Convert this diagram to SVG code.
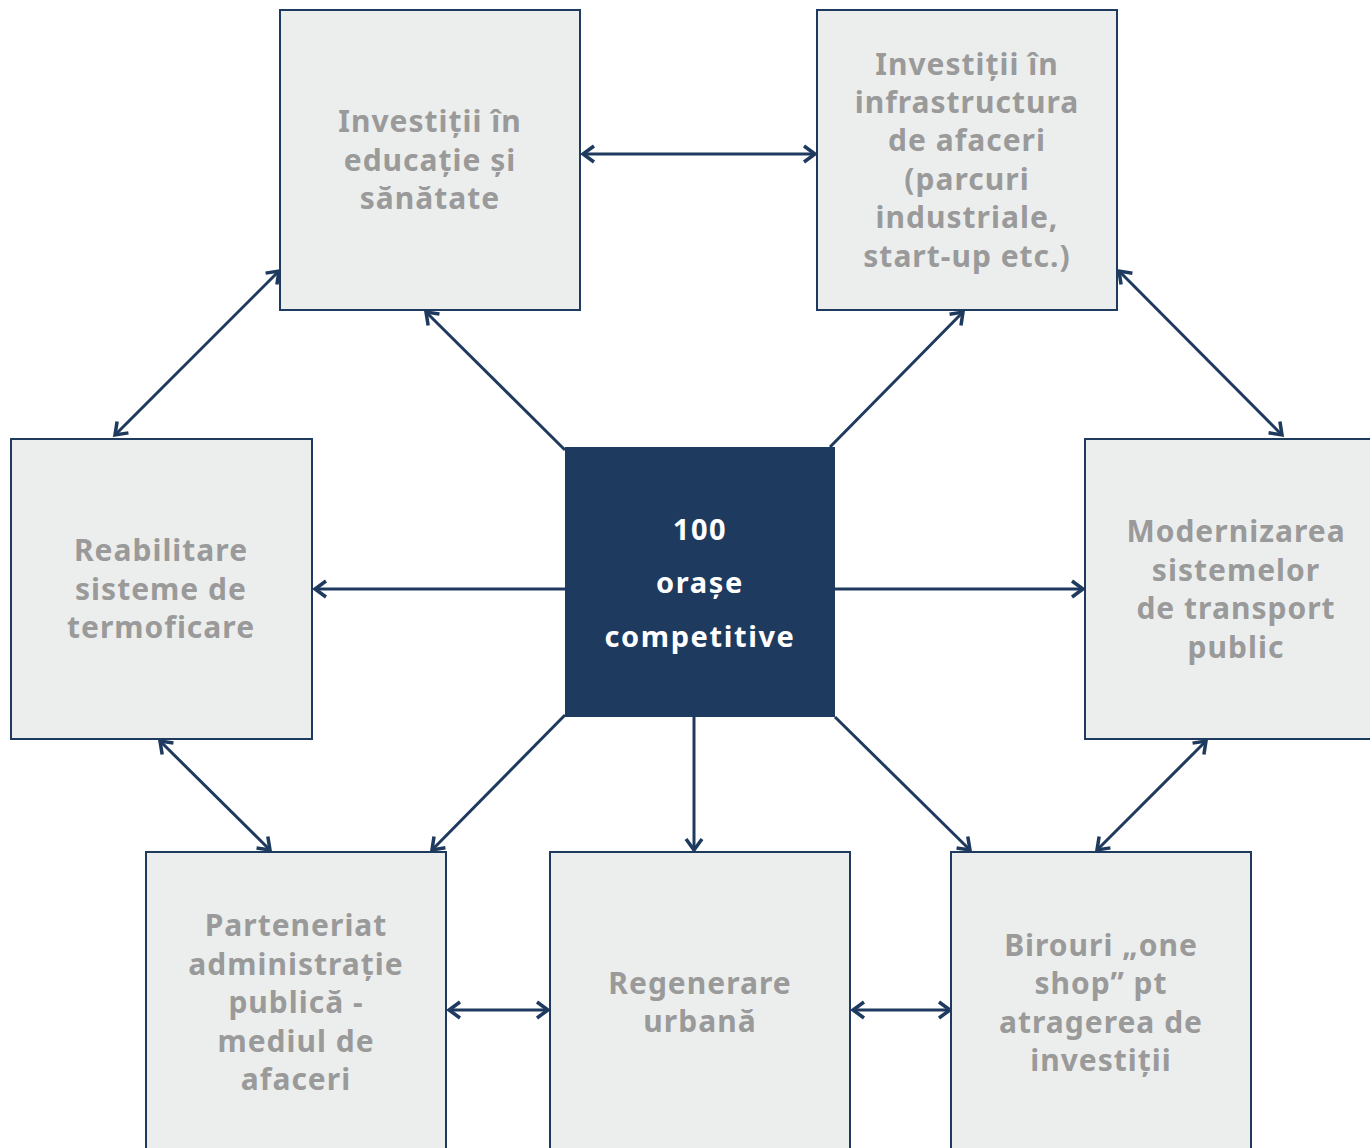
<svg xmlns="http://www.w3.org/2000/svg" width="1370" height="1148" viewBox="0 0 1370 1148">
<defs>
<style>
.box{fill:#ECEEED;stroke:#1F3A5F;stroke-width:2}
.t{font-family:"Noto Sans","Liberation Sans",sans-serif;font-weight:700;font-size:30px;letter-spacing:1px;fill:#9A9A9A;text-anchor:middle}
.c{font-family:"Noto Sans","Liberation Sans",sans-serif;font-weight:700;font-size:29px;letter-spacing:1.6px;fill:#FFFFFF;text-anchor:middle}
.ln{stroke:#1F3A5F;stroke-width:3;fill:none}
</style>
<marker id="ah" viewBox="0 0 20 20" refX="17" refY="10" markerWidth="20" markerHeight="20" markerUnits="userSpaceOnUse" orient="auto-start-reverse">
<path d="M6,2 L17,10 L6,18" fill="none" stroke="#1F3A5F" stroke-width="3.5"/>
</marker>
</defs>
<rect width="1370" height="1148" fill="#FFFFFF"/>
<g id="connectors">
<line class="ln" x1="583" y1="154" x2="815" y2="154" marker-start="url(#ah)" marker-end="url(#ah)"/>
<line class="ln" x1="279" y1="271" x2="115" y2="435" marker-start="url(#ah)" marker-end="url(#ah)"/>
<line class="ln" x1="565" y1="450" x2="426" y2="312" marker-end="url(#ah)"/>
<line class="ln" x1="830" y1="447" x2="963" y2="312" marker-end="url(#ah)"/>
<line class="ln" x1="1119" y1="271" x2="1282" y2="435" marker-start="url(#ah)" marker-end="url(#ah)"/>
<line class="ln" x1="565" y1="589" x2="315" y2="589" marker-end="url(#ah)"/>
<line class="ln" x1="835" y1="589" x2="1083" y2="589" marker-end="url(#ah)"/>
<line class="ln" x1="160" y1="741" x2="270" y2="850" marker-start="url(#ah)" marker-end="url(#ah)"/>
<line class="ln" x1="565" y1="715" x2="432" y2="850" marker-end="url(#ah)"/>
<line class="ln" x1="694" y1="717" x2="694" y2="850" marker-end="url(#ah)"/>
<line class="ln" x1="835" y1="717" x2="970" y2="850" marker-end="url(#ah)"/>
<line class="ln" x1="1206" y1="741" x2="1097" y2="850" marker-start="url(#ah)" marker-end="url(#ah)"/>
<line class="ln" x1="449" y1="1010" x2="548" y2="1010" marker-start="url(#ah)" marker-end="url(#ah)"/>
<line class="ln" x1="853" y1="1010" x2="950" y2="1010" marker-start="url(#ah)" marker-end="url(#ah)"/>
</g>
<g id="center">
<rect x="565" y="447" width="270" height="270" fill="#1F3A5F"/>
<text class="c" x="700" y="540">100</text>
<text class="c" x="700" y="593">orașe</text>
<text class="c" x="700" y="647">competitive</text>
</g>
<g id="edu">
<rect class="box" x="280" y="10" width="300" height="300"/>
<text class="t" x="430" y="132">Investiții în</text>
<text class="t" x="430" y="171">educație și</text>
<text class="t" x="430" y="209">sănătate</text>
</g>
<g id="infra">
<rect class="box" x="817" y="10" width="300" height="300"/>
<text class="t" x="967" y="75">Investiții în</text>
<text class="t" x="967" y="113">infrastructura</text>
<text class="t" x="967" y="151">de afaceri</text>
<text class="t" x="967" y="190">(parcuri</text>
<text class="t" x="967" y="228">industriale,</text>
<text class="t" x="967" y="267">start-up etc.)</text>
</g>
<g id="termo">
<rect class="box" x="11" y="439" width="301" height="300"/>
<text class="t" x="161" y="561">Reabilitare</text>
<text class="t" x="161" y="600">sisteme de</text>
<text class="t" x="161" y="638">termoficare</text>
</g>
<g id="transport">
<rect class="box" x="1085" y="439" width="300" height="300"/>
<text class="t" x="1236" y="542">Modernizarea</text>
<text class="t" x="1236" y="581">sistemelor</text>
<text class="t" x="1236" y="619">de transport</text>
<text class="t" x="1236" y="658">public</text>
</g>
<g id="parteneriat">
<rect class="box" x="146" y="852" width="300" height="310"/>
<text class="t" x="296" y="936">Parteneriat</text>
<text class="t" x="296" y="975">administrație</text>
<text class="t" x="296" y="1013">publică -</text>
<text class="t" x="296" y="1052">mediul de</text>
<text class="t" x="296" y="1090">afaceri</text>
</g>
<g id="regenerare">
<rect class="box" x="550" y="852" width="300" height="310"/>
<text class="t" x="700" y="994">Regenerare</text>
<text class="t" x="700" y="1032">urbană</text>
</g>
<g id="birouri">
<rect class="box" x="951" y="852" width="300" height="310"/>
<text class="t" x="1101" y="956">Birouri „one</text>
<text class="t" x="1101" y="994">shop” pt</text>
<text class="t" x="1101" y="1033">atragerea de</text>
<text class="t" x="1101" y="1071">investiții</text>
</g>
</svg>
